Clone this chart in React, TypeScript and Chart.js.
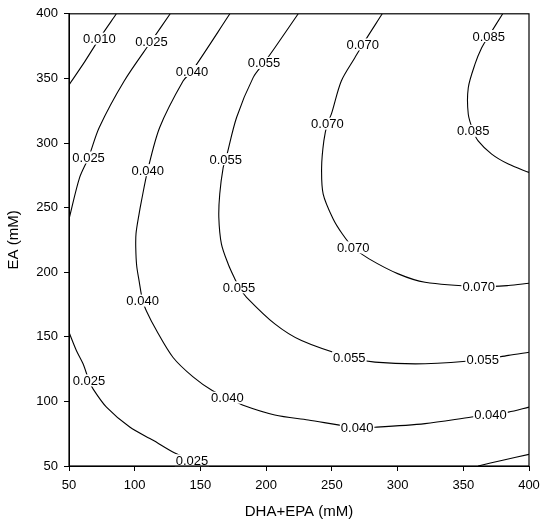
import React, { useEffect, useRef } from "react";
import { Chart, registerables } from "chart.js";

Chart.register(...registerables);

const FONT = "'Liberation Sans', Arial, sans-serif";

// axis ranges / ticks
const xTickValues = [50, 100, 150, 200, 250, 300, 350, 400];
const yTickValues = [50, 100, 150, 200, 250, 300, 350, 400];
const xTitle = "DHA+EPA (mM)";
const yTitle = "EA (mM)";

// contour lines (x = DHA+EPA, y = EA)
const c010X = [50, 62, 73.1, 86];
const c010Y = [345, 363, 380.8, 400];

const c025aX = [50, 58, 64.9, 73, 92, 112.7, 127];
const c025aY = [241, 273, 288.8, 312, 348, 378.9, 400];

const c025bX = [50, 55.6, 60.7, 65.2, 68.3, 78.5, 96.2, 114, 130.5, 143.6, 152];
const c025bY = [153.5, 139.4, 129.1, 116.2, 109.7, 95.6, 80.2, 69.9, 60, 54.4, 50];

const c025cX = [361.3, 380, 400];
const c025cY = [50, 54.5, 59];

const c040X = [172.4, 143.6, 136.8, 119, 109.9, 105.1, 103.3, 101, 100.8, 101.5, 103.3, 106, 108.9, 116.5, 129.2, 144.4, 159.6, 170.5, 182.5, 206.6, 232, 269.2, 282.8, 320.9, 356.4, 370.7, 384.3, 400];
const c040Y = [400, 355.7, 348, 312, 279, 255, 245, 230, 219, 205, 193.5, 178, 170, 155, 134, 119, 108, 102.9, 97, 89.5, 85.6, 79.7, 80, 82.8, 87.9, 89.7, 91.7, 95.6];

const c055X = [224.4, 206.6, 198.4, 190.1, 177.5, 169.3, 167.3, 164.7, 164, 166, 171.1, 176.2, 179.4, 185.1, 206.6, 226.9, 263.3, 282.8, 320.9, 364.8, 384.3, 400];
const c055Y = [400, 373.7, 362, 350.6, 319.7, 287.5, 281, 260.5, 242.4, 221.8, 206.4, 194.8, 188.3, 180.6, 160, 147.1, 134.2, 130.4, 129.1, 132.2, 135.6, 138];

const c070X = [288.3, 273.5, 267.5, 257.2, 249.6, 246.6, 243.9, 242.2, 243.4, 251, 258, 266.2, 278, 300.5, 320.9, 361.7, 384.3, 400];
const c070Y = [400, 376.3, 366, 348, 322.3, 315, 301.6, 281, 260.5, 241.2, 229.6, 219.2, 210.5, 198.7, 192.2, 188.9, 189.7, 191.4];

const c085X = [380, 369.4, 364, 358.9, 353.8, 353.8, 357.5, 361.3, 371.6, 384.3, 400];
const c085Y = [400, 382.8, 373.7, 361, 342.8, 322.3, 309.4, 301.6, 291.4, 283.7, 277.2];

// contour labels
const labelText = [
  "0.010", "0.025", "0.025", "0.025", "0.025",
  "0.040", "0.040", "0.040", "0.040", "0.040", "0.040",
  "0.055", "0.055", "0.055", "0.055", "0.055",
  "0.070", "0.070", "0.070", "0.070",
  "0.085", "0.085",
];
const labelX = [
  73.1, 112.7, 64.9, 65.2, 143.6,
  143.6, 109.9, 106, 170.5, 269.2, 370.7,
  198.4, 169.3, 179.4, 263.3, 364.8,
  273.5, 246.6, 266.2, 361.7,
  369.4, 357.5,
];
const labelY = [
  380.8, 378.9, 288.8, 116.2, 54.4,
  355.7, 279, 178, 102.9, 79.7, 89.7,
  362, 287.5, 188.3, 134.2, 132.2,
  376.3, 315, 219.2, 188.9,
  382.8, 309.4,
];

const contourXs = [c010X, c025aX, c025bX, c025cX, c040X, c055X, c070X, c085X];
const contourYs = [c010Y, c025aY, c025bY, c025cY, c040Y, c055Y, c070Y, c085Y];

const labelPlugin = {
  id: "contourLabels",
  afterDatasetsDraw(chart: any) {
    const { ctx, scales, chartArea } = chart;
    const xs = scales.x;
    const ys = scales.y;
    ctx.save();
    ctx.font = `13px ${FONT}`;
    for (let i = 0; i < labelText.length; i++) {
      const px = xs.getPixelForValue(labelX[i]);
      const py = ys.getPixelForValue(labelY[i]);
      const m = ctx.measureText(labelText[i]);
      const w = m.width;
      const asc = m.actualBoundingBoxAscent;
      const desc = m.actualBoundingBoxDescent;
      ctx.fillStyle = "#fff";
      ctx.fillRect(px - w / 2 - 1, py - (asc + desc) / 2 - 1.5, w + 2, asc + desc + 3);
      ctx.fillStyle = "#000";
      ctx.textAlign = "center";
      ctx.textBaseline = "alphabetic";
      ctx.fillText(labelText[i], px, py + (asc - desc) / 2);
    }
    // frame
    ctx.strokeStyle = "#000";
    ctx.lineWidth = 1.2;
    ctx.strokeRect(chartArea.left, chartArea.top, chartArea.right - chartArea.left, chartArea.bottom - chartArea.top);
    ctx.restore();
  },
};

export default function App() {
  const ref = useRef<HTMLCanvasElement>(null);
  useEffect(() => {
    if (!ref.current) return;
    const datasets = contourXs.map((xsArr, i) => ({
      data: xsArr.map((x, j) => ({ x, y: contourYs[i][j] })),
      showLine: true,
      borderColor: "#000",
      borderWidth: 1.1,
      pointRadius: 0,
      tension: 0.3,
      fill: false,
    }));
    const tickFont = { family: FONT, size: 13 };
    const titleFont = { family: FONT, size: 15 };
    const chart = new Chart(ref.current, {
      type: "scatter",
      data: { datasets },
      options: {
        animation: false,
        responsive: false,
        layout: { padding: { left: 0, top: 13, right: 21, bottom: 0 } },
        plugins: { legend: { display: false }, tooltip: { enabled: false } },
        scales: {
          x: {
            type: "linear",
            min: 50,
            max: 400,
            afterFit: (s: any) => { s.height = 60; },
            afterBuildTicks: (s: any) => { s.ticks = xTickValues.map((v) => ({ value: v })); },
            ticks: { font: tickFont, color: "#000", padding: 7 },
            grid: { drawOnChartArea: false, tickLength: 5, color: "#000", lineWidth: 1 },
            border: { color: "#000", width: 1 },
            title: { display: true, text: xTitle, font: titleFont, color: "#000", padding: { top: 0, bottom: 5 } },
          },
          y: {
            type: "linear",
            min: 50,
            max: 400,
            afterFit: (s: any) => { s.width = 69; },
            afterBuildTicks: (s: any) => { s.ticks = yTickValues.map((v) => ({ value: v })); },
            ticks: { font: tickFont, color: "#000", padding: 6 },
            grid: { drawOnChartArea: false, tickLength: 5, color: "#000", lineWidth: 1 },
            border: { color: "#000", width: 1 },
            title: { display: true, text: yTitle, font: titleFont, color: "#000", padding: { top: 5, bottom: 0 } },
          },
        },
      },
      plugins: [labelPlugin],
    } as any);
    return () => chart.destroy();
  }, []);
  return (
    <div style={{ position: "absolute", left: 0, top: 0, width: 550, height: 526, background: "#fff" }}>
      <canvas ref={ref} width={550} height={526} />
    </div>
  );
}
